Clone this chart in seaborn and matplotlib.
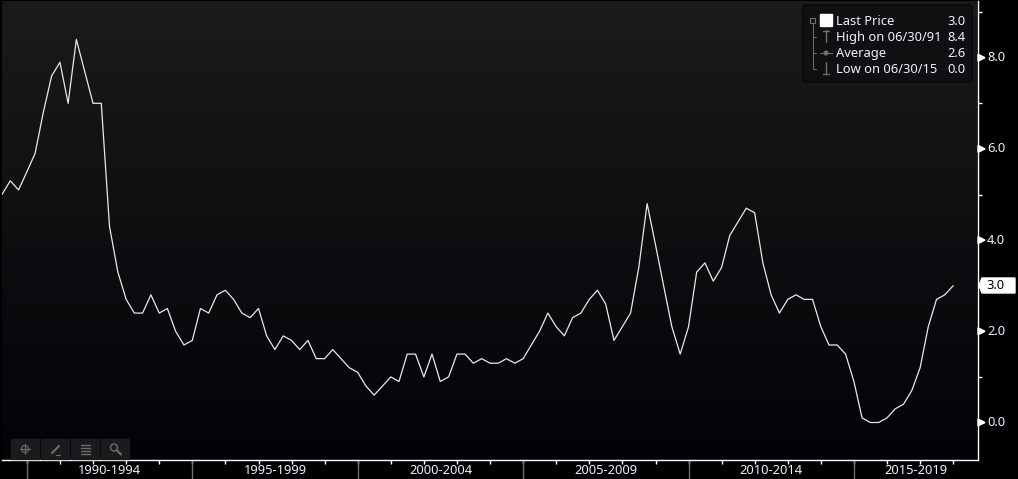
"""
Gráfico de série trimestral em estilo de terminal (fundo escuro).
"""

import numpy as np
import pandas as pd
import matplotlib
matplotlib.use("Agg")
import matplotlib.pyplot as plt
import matplotlib.dates as mdates
from matplotlib.patches import FancyBboxPatch, Rectangle, Polygon, Circle
import seaborn as sns

# Quarterly values, first point is 03/31/89
first_quarter = "1989-03-31"
values = [
    5.0, 5.3, 5.1, 5.5, 5.9, 6.8, 7.6, 7.9, 7.0, 8.4, 7.7, 7.0, 7.0, 4.3, 3.3, 2.7,
    2.4, 2.4, 2.8, 2.4, 2.5, 2.0, 1.7, 1.8, 2.5, 2.4, 2.8, 2.9, 2.7, 2.4, 2.3, 2.5,
    1.9, 1.6, 1.9, 1.8, 1.6, 1.8, 1.4, 1.4, 1.6, 1.4, 1.2, 1.1, 0.8, 0.6, 0.8, 1.0,
    0.9, 1.5, 1.5, 1.0, 1.5, 0.9, 1.0, 1.5, 1.5, 1.3, 1.4, 1.3, 1.3, 1.4, 1.3, 1.4,
    1.7, 2.0, 2.4, 2.1, 1.9, 2.3, 2.4, 2.7, 2.9, 2.6, 1.8, 2.1, 2.4, 3.4, 4.8, 3.9,
    3.0, 2.1, 1.5, 2.1, 3.3, 3.5, 3.1, 3.4, 4.1, 4.4, 4.7, 4.6, 3.5, 2.8, 2.4, 2.7,
    2.8, 2.7, 2.7, 2.1, 1.7, 1.7, 1.5, 0.9, 0.1, 0.0, 0.0, 0.1, 0.3, 0.4, 0.7, 1.2,
    2.1, 2.7, 2.8, 3.0,
]

y_major = [0, 2, 4, 6, 8]
y_minor = [1, 3, 5, 7, 9]
period_labels = ["1990-1994", "1995-1999", "2000-2004", "2005-2009", "2010-2014", "2015-2019"]
period_starts = [1990, 1995, 2000, 2005, 2010, 2015]
legend_names = ["Last Price", "High on 06/30/91", "Average", "Low on 06/30/15"]
legend_values = ["3.0", "8.4", "2.6", "0.0"]
last_label = "3.0"

W, H = 1018, 479
TEXT = "#eaf2fb"
GREY = "#6e6e70"
FS = 9.3

sns.set_theme(style="dark")
plt.rcParams["font.family"] = ["Noto Sans", "DejaVu Sans"]

df = pd.DataFrame({
    "date": pd.date_range(first_quarter, periods=len(values), freq="QE"),
    "value": values,
})

fig = plt.figure(figsize=(W / 100, H / 100), dpi=100, facecolor="black")

# Pixel overlay for the background and the decorations
bg = fig.add_axes([0, 0, 1, 1], zorder=0)
bg.axis("off")
gradient = np.linspace(0, 1, 256).reshape(-1, 1)
colors = np.array([27, 27, 29]) + gradient[..., None] * (np.array([3, 3, 7]) - np.array([27, 27, 29]))
bg.imshow(colors.astype(np.uint8), extent=(2, 977, 460, 1), aspect="auto", zorder=0)
bg.set_xlim(0, W)
bg.set_ylim(H, 0)

# Chart axes, aligned with the pixel grid of the reference
left, right, top, bottom = 2, 977.5, 1, 460
ax = fig.add_axes([left / W, 1 - bottom / H, (right - left) / W, (bottom - top) / H], zorder=1)
ax.patch.set_alpha(0)
sns.lineplot(data=df, x="date", y="value", ax=ax, color="#e8e8e8", linewidth=0.9, errorbar=None)

days_per_px = 91.31 / 8.27
x0 = df["date"].iloc[0]
ax.set_xlim(x0, x0 + pd.Timedelta(days=(right - left) * days_per_px))
ax.set_ylim((422.5 - bottom) / 45.6, (422.5 - top) / 45.6)
ax.set_xlabel("")
ax.set_ylabel("")
ax.grid(False)

for side in ["left", "top"]:
    ax.spines[side].set_visible(False)
for side in ["right", "bottom"]:
    ax.spines[side].set_visible(True)
    ax.spines[side].set_color("white")
    ax.spines[side].set_linewidth(1.0)

# Y axis on the right: plain ticks on odd values, pointers and labels on even ones
ax.yaxis.tick_right()
ax.set_yticks(y_minor)
ax.set_yticklabels([])
ax.tick_params(axis="y", which="major", length=3, width=1, color="white", right=True)
for v in y_major:
    ax.annotate(f"{v:.1f}", xy=(1, v), xycoords=("axes fraction", "data"), xytext=(7, 0),
                textcoords="offset points", va="center", ha="left", fontsize=FS, color=TEXT)
    px = 422.5 - v * 45.6
    bg.add_patch(Polygon([[978, px - 3.5], [985, px], [978, px + 3.5]], color="white", zorder=3))

# X axis: year ticks, long separators every five years, labels between them
ax.set_xticks(mdates.date2num([pd.Timestamp(f"{y}-01-01") for y in range(1990, 2019)]))
ax.set_xticklabels([])
ax.tick_params(axis="x", which="major", length=3, width=1, color="white", bottom=True)
axis_end = ax.get_xlim()[1]
for i, (start, label) in enumerate(zip(period_starts, period_labels)):
    t0 = mdates.date2num(pd.Timestamp(f"{start}-01-01"))
    t1 = mdates.date2num(pd.Timestamp(f"{start + 5}-01-01")) if i < len(period_starts) - 1 else axis_end
    ax.plot([t0, t0], [0, -0.042], transform=ax.get_xaxis_transform(), clip_on=False,
            color=GREY, linewidth=1.0)
    ax.text((t0 + t1) / 2, -0.0225, label, transform=ax.get_xaxis_transform(), ha="center",
            va="center", fontsize=FS, color=TEXT)

# Last value tag
bg.add_patch(Polygon([[979, 285.5], [982, 278], [1015, 278], [1015, 293], [982, 293]],
                     color="white", zorder=3))
bg.text(986, 285.5, last_label, ha="left", va="center", fontsize=FS, color="black", zorder=4)

# Legend box
leg = fig.add_axes([0, 0, 1, 1], zorder=2)
leg.set_xlim(0, W)
leg.set_ylim(H, 0)
leg.axis("off")
leg.add_patch(FancyBboxPatch((803, 5), 169, 77, boxstyle="round,pad=0,rounding_size=3",
                             facecolor="#101013", edgecolor="#060607", linewidth=1))
row_y = [21, 37, 53, 69]
for y, name, val in zip(row_y, legend_names, legend_values):
    leg.text(836, y, name, ha="left", va="center", fontsize=FS, color=TEXT)
    leg.text(966, y, val, ha="right", va="center", fontsize=FS, color=TEXT)
leg.add_patch(Rectangle((820, 14), 12, 12, color="white"))

# Tree lines and small icons
leg.add_patch(Rectangle((810.5, 17.5), 5, 5, facecolor="none", edgecolor=GREY, linewidth=0.8))
leg.plot([813, 813], [23, 69], color=GREY, linewidth=0.7)
leg.plot([813, 816], [37, 37], color=GREY, linewidth=0.7)
leg.plot([813, 816], [53, 53], color=GREY, linewidth=0.7)
leg.plot([813, 816], [69, 69], color=GREY, linewidth=0.7)
leg.plot([823, 829], [30.5, 30.5], color=GREY, linewidth=1.0)
leg.plot([826, 826], [30, 42], color=GREY, linewidth=1.0)
leg.plot([820, 832], [53, 53], color=GREY, linewidth=0.8)
leg.add_patch(Circle((826, 53), 1.8, color=GREY))
leg.plot([826, 826], [62, 73], color=GREY, linewidth=1.0)
leg.plot([823, 829], [73.5, 73.5], color=GREY, linewidth=1.0)

# Toolbar in the lower left corner
for x in [11, 41, 71, 101]:
    leg.add_patch(Rectangle((x, 439), 28, 20, color="#1b1b1d"))
leg.add_patch(Circle((25, 449), 3.5, facecolor="none", edgecolor=GREY, linewidth=0.8))
leg.plot([20, 30], [449, 449], color=GREY, linewidth=0.8)
leg.plot([25, 25], [444, 454], color=GREY, linewidth=0.8)
leg.plot([52, 59], [453, 446], color=GREY, linewidth=1.5)
leg.plot([56, 60], [454.5, 454.5], color=GREY, linewidth=0.8)
for y in [445, 448, 451, 454]:
    leg.plot([81, 90], [y, y], color=GREY, linewidth=1.0)
leg.add_patch(Circle((114, 447.5), 3.5, facecolor="none", edgecolor=GREY, linewidth=1.0))
leg.plot([117, 121], [450.5, 454.5], color=GREY, linewidth=1.5)

fig.savefig("out.png", dpi=100, facecolor="black")
